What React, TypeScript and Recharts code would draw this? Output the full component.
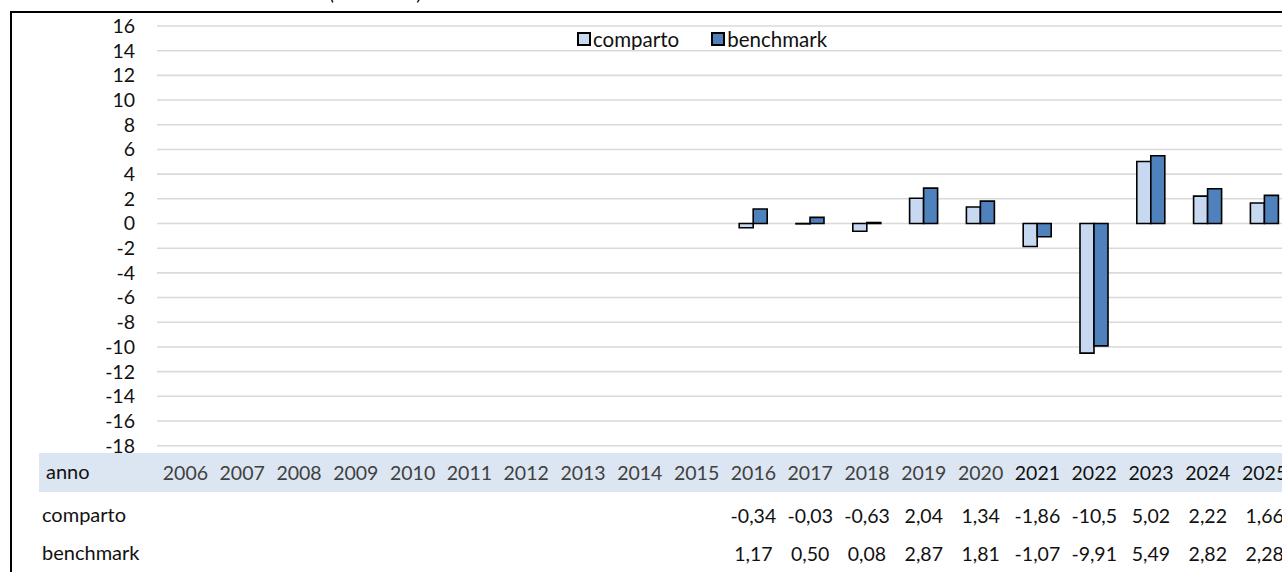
import React from "react";
import { BarChart, Bar, XAxis, YAxis, CartesianGrid } from "recharts";

const years = ["2006","2007","2008","2009","2010","2011","2012","2013","2014","2015","2016","2017","2018","2019","2020","2021","2022","2023","2024","2025"];
const comparto: (number | null)[] = [null,null,null,null,null,null,null,null,null,null,-0.34,-0.03,-0.63,2.04,1.34,-1.86,-10.5,5.02,2.22,1.66];
const benchmark: (number | null)[] = [null,null,null,null,null,null,null,null,null,null,1.17,0.50,0.08,2.87,1.81,-1.07,-9.91,5.49,2.82,2.28];
const yTicks = [-18,-16,-14,-12,-10,-8,-6,-4,-2,0,2,4,6,8,10,12,14,16];

const data = years.map((y, i) => ({ anno: y, comparto: comparto[i], benchmark: benchmark[i] }));

const FONT = "Lato, 'Open Sans', sans-serif";
const FS = 19.5;
const C1 = "#C6D9F1";
const C2 = "#4F81BD";

const fmt = (v: number | null) => {
  if (v === null || v === undefined) return "";
  const s = Math.abs(v) >= 10 ? v.toFixed(1) : v.toFixed(2);
  return s.replace(".", ",");
};

const TableTick = (props: any) => {
  const { x, y, payload, index } = props;
  const i = index ?? years.indexOf(payload.value);
  return (
    <g>
      <text x={x} y={y + 34.5} textAnchor="middle" fontFamily={FONT} fontSize={FS} fill={i >= 15 ? "#111" : "#404040"}>
        {payload.value}
      </text>
      <text x={x} y={y + 77.5} textAnchor="middle" fontFamily={FONT} fontSize={FS} fill="#111">
        {fmt(comparto[i])}
      </text>
      <text x={x} y={y + 115} textAnchor="middle" fontFamily={FONT} fontSize={FS} fill="#111">
        {fmt(benchmark[i])}
      </text>
    </g>
  );
};

const LegendItem = ({ color, label, gap }: { color: string; label: string; gap: number }) => (
  <span style={{ display: "inline-flex", alignItems: "center", marginRight: gap }}>
    <span style={{ display: "inline-block", width: 10, height: 10, background: color, border: "2px solid #000", marginRight: 2 }} />
    <span>{label}</span>
  </span>
);

export default function App() {
  return (
    <div style={{ position: "absolute", left: 0, top: 0, width: 1282, height: 572, overflow: "hidden", background: "#fff", fontFamily: FONT }}>
      <svg style={{ position: "absolute", left: 0, top: 0 }} width={1282} height={20}>
        <text x={376} y={0} textAnchor="middle" fontFamily={FONT} fontStyle="italic" fontSize={FS} fill="#000">(valori in %)</text>
      </svg>
      <div style={{ position: "absolute", left: 10, top: 11, width: 1320, height: 620, borderLeft: "2px solid #000", borderTop: "2px solid #000" }} />
      <div style={{ position: "absolute", left: 39, top: 453, width: 1300, height: 39, background: "#DCE6F2" }} />
      <div style={{ position: "absolute", left: 46, top: 459, fontSize: 20, color: "#111", lineHeight: "24px" }}>anno</div>
      <div style={{ position: "absolute", left: 42, top: 502, fontSize: 20, color: "#111", lineHeight: "24px" }}>comparto</div>
      <div style={{ position: "absolute", left: 42, top: 540, fontSize: 20, color: "#111", lineHeight: "24px" }}>benchmark</div>
      <div style={{ position: "absolute", left: 577, top: 26, fontSize: 20.5, color: "#111", lineHeight: "24px", whiteSpace: "nowrap" }}>
        <LegendItem color={C1} label="comparto" gap={32} />
        <LegendItem color={C2} label="benchmark" gap={0} />
      </div>
      <div style={{ position: "absolute", left: 0, top: 0 }}>
        <BarChart
          width={1310}
          height={572}
          data={data}
          margin={{ top: 26, right: 17, bottom: 6.3, left: 0 }}
          barCategoryGap="25%"
          barGap={0}
        >
          <CartesianGrid vertical={false} stroke="#D9D9D9" strokeWidth={1.6} />
          <YAxis
            width={157}
            domain={[-18, 16]}
            ticks={yTicks}
            interval={0}
            axisLine={false}
            tickLine={false}
            tickSize={0}
            tickMargin={22}
            tick={{ fill: "#111", fontSize: FS, fontFamily: FONT }}
          />
          <XAxis
            dataKey="anno"
            height={120}
            axisLine={false}
            tickLine={false}
            tickSize={0}
            tickMargin={0}
            interval={0}
            tick={<TableTick />}
          />
          <Bar dataKey="comparto" fill={C1} stroke="#000" strokeWidth={1.6} isAnimationActive={false} />
          <Bar dataKey="benchmark" fill={C2} stroke="#000" strokeWidth={1.6} isAnimationActive={false} />
        </BarChart>
      </div>
    </div>
  );
}
